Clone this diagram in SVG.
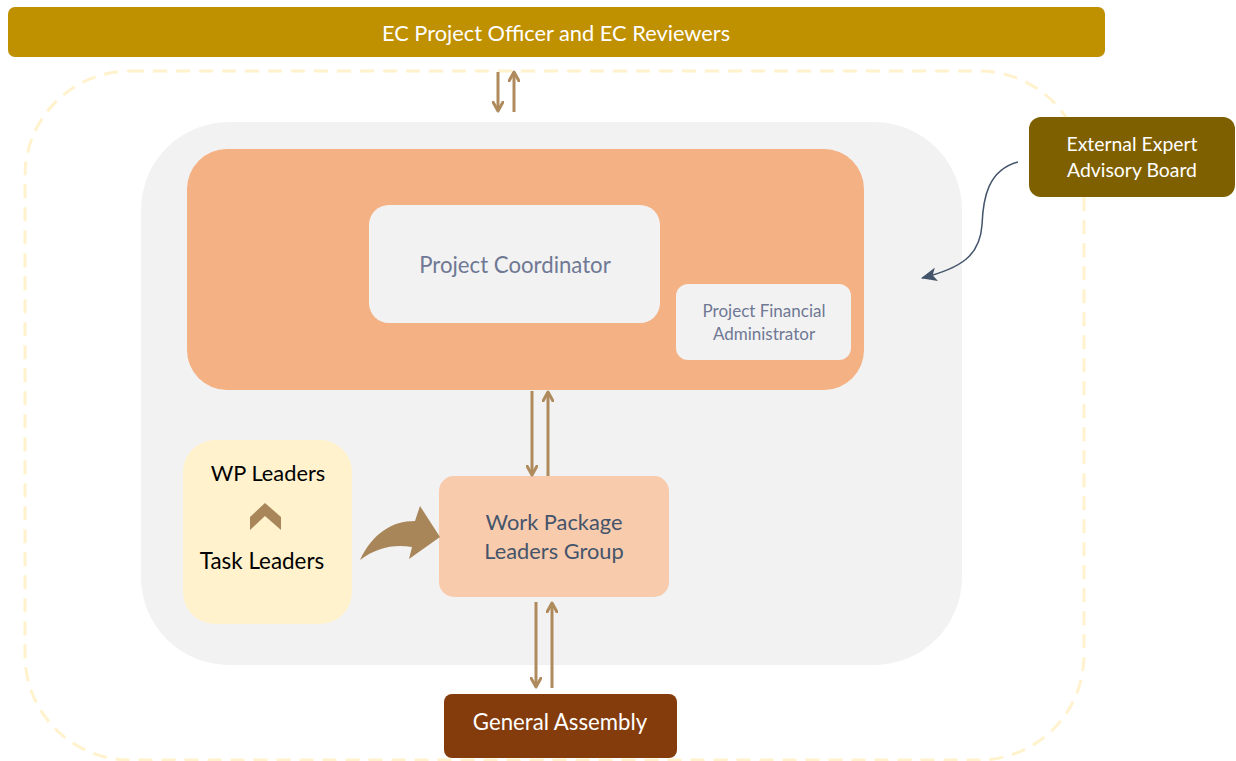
<svg xmlns="http://www.w3.org/2000/svg" width="1236" height="761" viewBox="0 0 1236 761">
<defs>
<style>
.t{font-family:Lato,"Open Sans","Liberation Sans",sans-serif;text-anchor:middle}
.w{fill:#FFFFFF}
.pc{fill:#6F7894}
.ln{stroke:#AE8A5C;stroke-width:3;fill:none}
</style>
<marker id="ah" viewBox="0 0 12 12" refX="10" refY="6" markerWidth="12" markerHeight="12" markerUnits="userSpaceOnUse" orient="auto">
<path d="M1,1 L10,6 L1,11" fill="none" stroke="#AE8A5C" stroke-width="3" stroke-linecap="round" stroke-linejoin="round"/>
</marker>
<marker id="bh" viewBox="0 0 16 14" refX="15" refY="7" markerWidth="16" markerHeight="14" markerUnits="userSpaceOnUse" orient="auto">
<path d="M0,0 L16,7 L0,14 L4,7 Z" fill="#44546A"/>
</marker>
</defs>
<rect width="1236" height="761" fill="#FFFFFF"/>
<rect x="25" y="71" width="1059" height="689" rx="105" fill="none" stroke="#FFF2CC" stroke-width="3" stroke-dasharray="14 9"/>
<g id="ec">
<rect x="8" y="7" width="1097" height="50" rx="7" fill="#BF9000"/>
<text class="t w" x="556" y="41" font-size="21.8">EC Project Officer and EC Reviewers</text>
</g>
<g id="management">
<rect x="141" y="122" width="821" height="543" rx="88" fill="#F2F2F2"/>
</g>
<g id="coordination">
<rect x="187" y="149" width="677" height="241" rx="40" fill="#F4B183"/>
</g>
<g id="coordinator">
<rect x="369" y="205" width="291" height="118" rx="20" fill="#F2F2F2"/>
<text class="t pc" x="515" y="273" font-size="22.2">Project Coordinator</text>
</g>
<g id="pfa">
<rect x="676" y="284" width="175" height="76" rx="12" fill="#F2F2F2"/>
<text class="t pc" x="764" y="317" font-size="17">Project Financial</text>
<text class="t pc" x="764" y="340" font-size="17">Administrator</text>
</g>
<g id="leaders">
<rect x="183" y="440" width="169" height="184" rx="32" fill="#FFF2CC"/>
<text class="t" x="268" y="481" font-size="21.8" fill="#000000">WP Leaders</text>
<polygon points="250,517 265,503 281,517 281,530 265,516 250,530" fill="#A9865A"/>
<text class="t" x="262" y="569" font-size="22.4" fill="#000000">Task Leaders</text>
</g>
<g id="wpgroup">
<rect x="439" y="476" width="230" height="121" rx="15" fill="#F8CBAD"/>
<text class="t" x="554" y="530" font-size="21.8" fill="#44546A">Work Package</text>
<text class="t" x="554" y="559" font-size="21.8" fill="#44546A">Leaders Group</text>
</g>
<g id="ga">
<rect x="444" y="694" width="233" height="64" rx="8" fill="#843C0C"/>
<text class="t w" x="560" y="730" font-size="22.2">General Assembly</text>
</g>
<g id="advisory">
<rect x="1029" y="117" width="206" height="80" rx="12" fill="#7F6000"/>
<text class="t w" x="1132" y="151" font-size="19.4">External Expert</text>
<text class="t w" x="1132" y="177" font-size="19.4">Advisory Board</text>
</g>
<g id="connectors">
<line class="ln" x1="498" y1="72" x2="498" y2="111" marker-end="url(#ah)"/>
<line class="ln" x1="514" y1="112" x2="514" y2="72" marker-end="url(#ah)"/>
<line class="ln" x1="532" y1="391" x2="532" y2="475" marker-end="url(#ah)"/>
<line class="ln" x1="548" y1="476" x2="548" y2="392" marker-end="url(#ah)"/>
<line class="ln" x1="536" y1="602" x2="536" y2="687" marker-end="url(#ah)"/>
<line class="ln" x1="552" y1="688" x2="552" y2="603" marker-end="url(#ah)"/>
<path d="M360,560 C373,533 392,521 415,521 L420,506 L440,537 L409,559 L412,547 C393,544 376,548 360,560 Z" fill="#A9865A"/>
<path d="M1018,162 C988,170 983,198 982,225 C980,255 962,268 922,278" fill="none" stroke="#44546A" stroke-width="1.5" marker-end="url(#bh)"/>
</g>
</svg>
